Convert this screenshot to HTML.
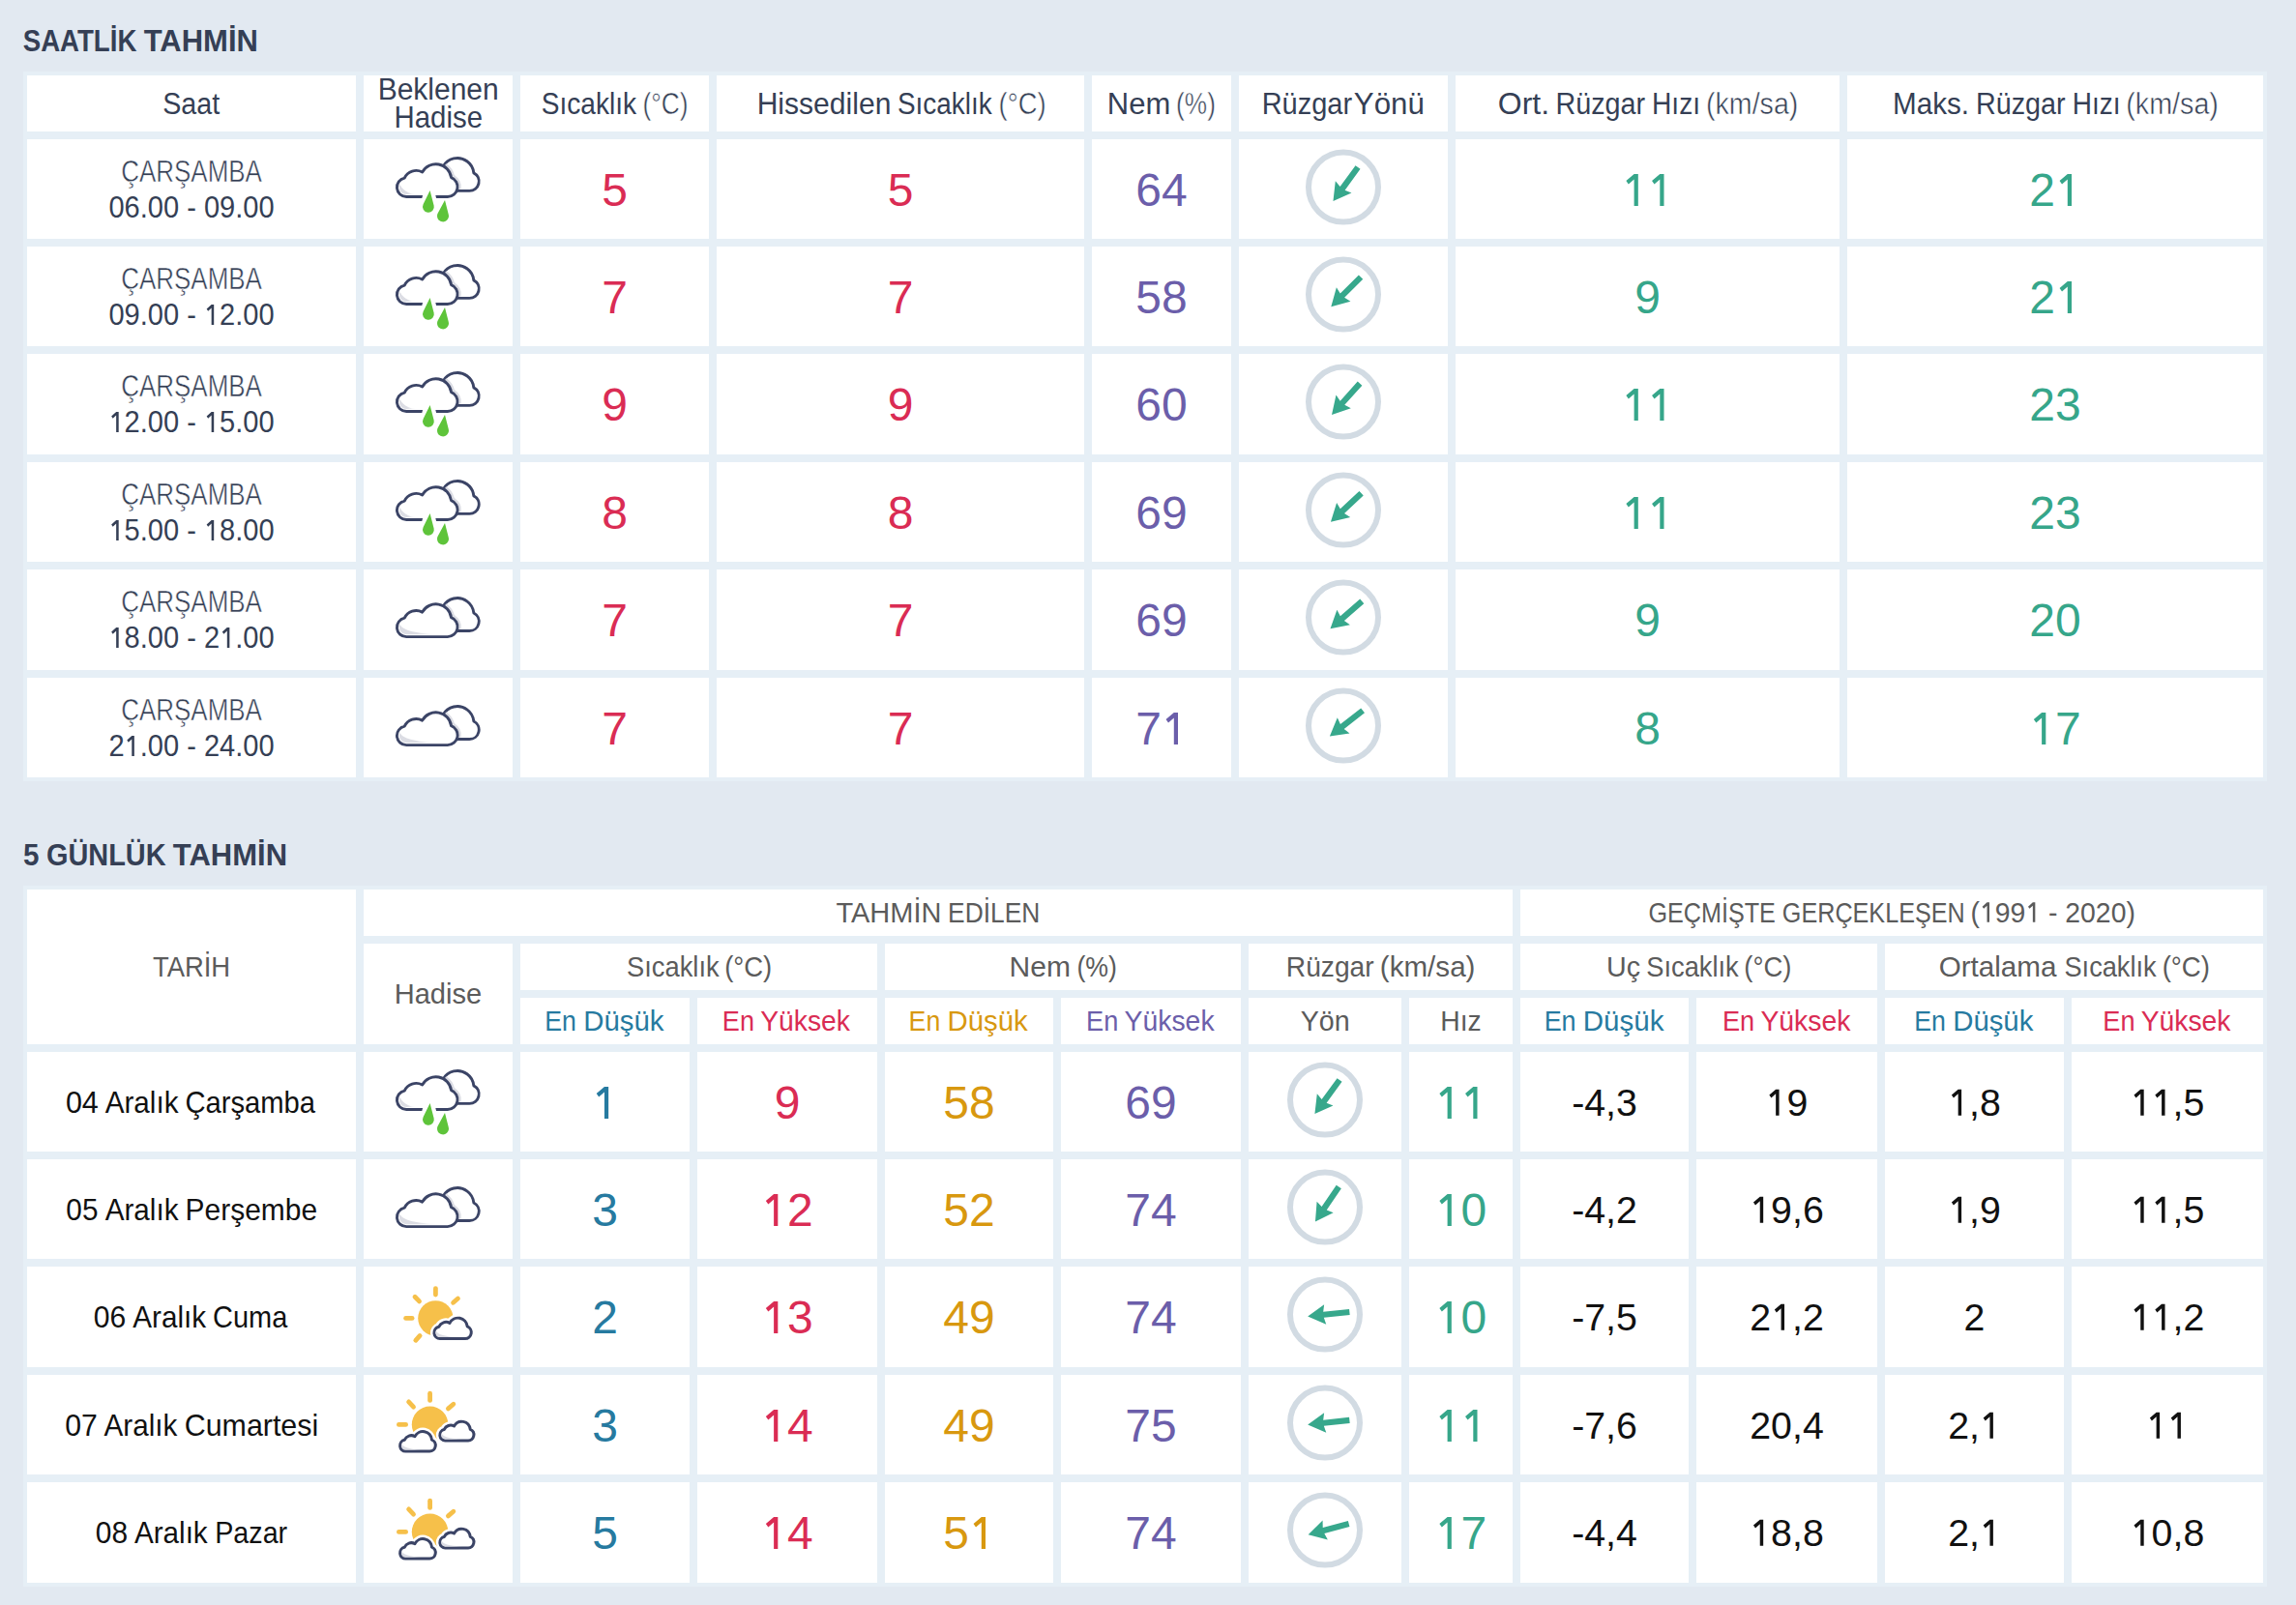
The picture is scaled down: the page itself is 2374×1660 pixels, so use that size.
<!DOCTYPE html>
<html lang="tr"><head><meta charset="utf-8"><title>Saatlik ve 5 Günlük Tahmin</title>
<style>
html,body{margin:0;padding:0}
body{width:2374px;height:1660px;background:#e2e9f1;position:relative;overflow:hidden;font-family:"Liberation Sans",sans-serif}
.tbl{position:absolute;background:#e6eff6}
.c{position:absolute;background:#fff}
svg.ov{position:absolute;left:0;top:0}
svg.ov text{font-family:"Liberation Sans",sans-serif;white-space:pre}
</style></head><body>
<div class="tbl" style="left:24px;top:74px;width:2320px;height:734px"></div>
<div class="tbl" style="left:24px;top:916px;width:2320px;height:725px"></div>
<div class="c" style="left:28px;top:78px;width:340px;height:58px"></div>
<div class="c" style="left:28px;top:144px;width:340px;height:103px"></div>
<div class="c" style="left:28px;top:255px;width:340px;height:103px"></div>
<div class="c" style="left:28px;top:366px;width:340px;height:104px"></div>
<div class="c" style="left:28px;top:478px;width:340px;height:103px"></div>
<div class="c" style="left:28px;top:589px;width:340px;height:104px"></div>
<div class="c" style="left:28px;top:701px;width:340px;height:103px"></div>
<div class="c" style="left:376px;top:78px;width:154px;height:58px"></div>
<div class="c" style="left:376px;top:144px;width:154px;height:103px"></div>
<div class="c" style="left:376px;top:255px;width:154px;height:103px"></div>
<div class="c" style="left:376px;top:366px;width:154px;height:104px"></div>
<div class="c" style="left:376px;top:478px;width:154px;height:103px"></div>
<div class="c" style="left:376px;top:589px;width:154px;height:104px"></div>
<div class="c" style="left:376px;top:701px;width:154px;height:103px"></div>
<div class="c" style="left:538px;top:78px;width:195px;height:58px"></div>
<div class="c" style="left:538px;top:144px;width:195px;height:103px"></div>
<div class="c" style="left:538px;top:255px;width:195px;height:103px"></div>
<div class="c" style="left:538px;top:366px;width:195px;height:104px"></div>
<div class="c" style="left:538px;top:478px;width:195px;height:103px"></div>
<div class="c" style="left:538px;top:589px;width:195px;height:104px"></div>
<div class="c" style="left:538px;top:701px;width:195px;height:103px"></div>
<div class="c" style="left:741px;top:78px;width:380px;height:58px"></div>
<div class="c" style="left:741px;top:144px;width:380px;height:103px"></div>
<div class="c" style="left:741px;top:255px;width:380px;height:103px"></div>
<div class="c" style="left:741px;top:366px;width:380px;height:104px"></div>
<div class="c" style="left:741px;top:478px;width:380px;height:103px"></div>
<div class="c" style="left:741px;top:589px;width:380px;height:104px"></div>
<div class="c" style="left:741px;top:701px;width:380px;height:103px"></div>
<div class="c" style="left:1129px;top:78px;width:144px;height:58px"></div>
<div class="c" style="left:1129px;top:144px;width:144px;height:103px"></div>
<div class="c" style="left:1129px;top:255px;width:144px;height:103px"></div>
<div class="c" style="left:1129px;top:366px;width:144px;height:104px"></div>
<div class="c" style="left:1129px;top:478px;width:144px;height:103px"></div>
<div class="c" style="left:1129px;top:589px;width:144px;height:104px"></div>
<div class="c" style="left:1129px;top:701px;width:144px;height:103px"></div>
<div class="c" style="left:1281px;top:78px;width:216px;height:58px"></div>
<div class="c" style="left:1281px;top:144px;width:216px;height:103px"></div>
<div class="c" style="left:1281px;top:255px;width:216px;height:103px"></div>
<div class="c" style="left:1281px;top:366px;width:216px;height:104px"></div>
<div class="c" style="left:1281px;top:478px;width:216px;height:103px"></div>
<div class="c" style="left:1281px;top:589px;width:216px;height:104px"></div>
<div class="c" style="left:1281px;top:701px;width:216px;height:103px"></div>
<div class="c" style="left:1505px;top:78px;width:397px;height:58px"></div>
<div class="c" style="left:1505px;top:144px;width:397px;height:103px"></div>
<div class="c" style="left:1505px;top:255px;width:397px;height:103px"></div>
<div class="c" style="left:1505px;top:366px;width:397px;height:104px"></div>
<div class="c" style="left:1505px;top:478px;width:397px;height:103px"></div>
<div class="c" style="left:1505px;top:589px;width:397px;height:104px"></div>
<div class="c" style="left:1505px;top:701px;width:397px;height:103px"></div>
<div class="c" style="left:1910px;top:78px;width:430px;height:58px"></div>
<div class="c" style="left:1910px;top:144px;width:430px;height:103px"></div>
<div class="c" style="left:1910px;top:255px;width:430px;height:103px"></div>
<div class="c" style="left:1910px;top:366px;width:430px;height:104px"></div>
<div class="c" style="left:1910px;top:478px;width:430px;height:103px"></div>
<div class="c" style="left:1910px;top:589px;width:430px;height:104px"></div>
<div class="c" style="left:1910px;top:701px;width:430px;height:103px"></div>
<div class="c" style="left:28px;top:920px;width:340px;height:160px"></div>
<div class="c" style="left:376px;top:920px;width:1188px;height:48px"></div>
<div class="c" style="left:1572px;top:920px;width:768px;height:48px"></div>
<div class="c" style="left:376px;top:976px;width:154px;height:104px"></div>
<div class="c" style="left:538px;top:976px;width:369px;height:48px"></div>
<div class="c" style="left:915px;top:976px;width:368px;height:48px"></div>
<div class="c" style="left:1291px;top:976px;width:273px;height:48px"></div>
<div class="c" style="left:1572px;top:976px;width:369px;height:48px"></div>
<div class="c" style="left:1949px;top:976px;width:391px;height:48px"></div>
<div class="c" style="left:538px;top:1032px;width:175px;height:48px"></div>
<div class="c" style="left:721px;top:1032px;width:186px;height:48px"></div>
<div class="c" style="left:915px;top:1032px;width:174px;height:48px"></div>
<div class="c" style="left:1097px;top:1032px;width:186px;height:48px"></div>
<div class="c" style="left:1291px;top:1032px;width:158px;height:48px"></div>
<div class="c" style="left:1457px;top:1032px;width:107px;height:48px"></div>
<div class="c" style="left:1572px;top:1032px;width:174px;height:48px"></div>
<div class="c" style="left:1754px;top:1032px;width:187px;height:48px"></div>
<div class="c" style="left:1949px;top:1032px;width:185px;height:48px"></div>
<div class="c" style="left:2142px;top:1032px;width:198px;height:48px"></div>
<div class="c" style="left:28px;top:1088px;width:340px;height:103px"></div>
<div class="c" style="left:376px;top:1088px;width:154px;height:103px"></div>
<div class="c" style="left:538px;top:1088px;width:175px;height:103px"></div>
<div class="c" style="left:721px;top:1088px;width:186px;height:103px"></div>
<div class="c" style="left:915px;top:1088px;width:174px;height:103px"></div>
<div class="c" style="left:1097px;top:1088px;width:186px;height:103px"></div>
<div class="c" style="left:1291px;top:1088px;width:158px;height:103px"></div>
<div class="c" style="left:1457px;top:1088px;width:107px;height:103px"></div>
<div class="c" style="left:1572px;top:1088px;width:174px;height:103px"></div>
<div class="c" style="left:1754px;top:1088px;width:187px;height:103px"></div>
<div class="c" style="left:1949px;top:1088px;width:185px;height:103px"></div>
<div class="c" style="left:2142px;top:1088px;width:198px;height:103px"></div>
<div class="c" style="left:28px;top:1199px;width:340px;height:103px"></div>
<div class="c" style="left:376px;top:1199px;width:154px;height:103px"></div>
<div class="c" style="left:538px;top:1199px;width:175px;height:103px"></div>
<div class="c" style="left:721px;top:1199px;width:186px;height:103px"></div>
<div class="c" style="left:915px;top:1199px;width:174px;height:103px"></div>
<div class="c" style="left:1097px;top:1199px;width:186px;height:103px"></div>
<div class="c" style="left:1291px;top:1199px;width:158px;height:103px"></div>
<div class="c" style="left:1457px;top:1199px;width:107px;height:103px"></div>
<div class="c" style="left:1572px;top:1199px;width:174px;height:103px"></div>
<div class="c" style="left:1754px;top:1199px;width:187px;height:103px"></div>
<div class="c" style="left:1949px;top:1199px;width:185px;height:103px"></div>
<div class="c" style="left:2142px;top:1199px;width:198px;height:103px"></div>
<div class="c" style="left:28px;top:1310px;width:340px;height:104px"></div>
<div class="c" style="left:376px;top:1310px;width:154px;height:104px"></div>
<div class="c" style="left:538px;top:1310px;width:175px;height:104px"></div>
<div class="c" style="left:721px;top:1310px;width:186px;height:104px"></div>
<div class="c" style="left:915px;top:1310px;width:174px;height:104px"></div>
<div class="c" style="left:1097px;top:1310px;width:186px;height:104px"></div>
<div class="c" style="left:1291px;top:1310px;width:158px;height:104px"></div>
<div class="c" style="left:1457px;top:1310px;width:107px;height:104px"></div>
<div class="c" style="left:1572px;top:1310px;width:174px;height:104px"></div>
<div class="c" style="left:1754px;top:1310px;width:187px;height:104px"></div>
<div class="c" style="left:1949px;top:1310px;width:185px;height:104px"></div>
<div class="c" style="left:2142px;top:1310px;width:198px;height:104px"></div>
<div class="c" style="left:28px;top:1422px;width:340px;height:103px"></div>
<div class="c" style="left:376px;top:1422px;width:154px;height:103px"></div>
<div class="c" style="left:538px;top:1422px;width:175px;height:103px"></div>
<div class="c" style="left:721px;top:1422px;width:186px;height:103px"></div>
<div class="c" style="left:915px;top:1422px;width:174px;height:103px"></div>
<div class="c" style="left:1097px;top:1422px;width:186px;height:103px"></div>
<div class="c" style="left:1291px;top:1422px;width:158px;height:103px"></div>
<div class="c" style="left:1457px;top:1422px;width:107px;height:103px"></div>
<div class="c" style="left:1572px;top:1422px;width:174px;height:103px"></div>
<div class="c" style="left:1754px;top:1422px;width:187px;height:103px"></div>
<div class="c" style="left:1949px;top:1422px;width:185px;height:103px"></div>
<div class="c" style="left:2142px;top:1422px;width:198px;height:103px"></div>
<div class="c" style="left:28px;top:1533px;width:340px;height:104px"></div>
<div class="c" style="left:376px;top:1533px;width:154px;height:104px"></div>
<div class="c" style="left:538px;top:1533px;width:175px;height:104px"></div>
<div class="c" style="left:721px;top:1533px;width:186px;height:104px"></div>
<div class="c" style="left:915px;top:1533px;width:174px;height:104px"></div>
<div class="c" style="left:1097px;top:1533px;width:186px;height:104px"></div>
<div class="c" style="left:1291px;top:1533px;width:158px;height:104px"></div>
<div class="c" style="left:1457px;top:1533px;width:107px;height:104px"></div>
<div class="c" style="left:1572px;top:1533px;width:174px;height:104px"></div>
<div class="c" style="left:1754px;top:1533px;width:187px;height:104px"></div>
<div class="c" style="left:1949px;top:1533px;width:185px;height:104px"></div>
<div class="c" style="left:2142px;top:1533px;width:198px;height:104px"></div>
<svg class="ov" width="2374" height="1660" viewBox="0 0 2374 1660" xmlns="http://www.w3.org/2000/svg">
<defs><linearGradient id="shg" x1="0" y1="0" x2="1" y2="0"><stop offset="0" stop-color="#dcdde4"/><stop offset="0.45" stop-color="#dcdde4"/><stop offset="1" stop-color="#dcdde4" stop-opacity="0"/></linearGradient></defs>
<circle cx="1389.00" cy="193.60" r="36" fill="none" stroke="#d2dbe3" stroke-width="6"/><polygon points="17.90,0.00 -0.20,10.30 1.50,3.10 -25.50,3.10 -25.50,-3.10 1.50,-3.10 -0.20,-10.30" fill="#37a88c" transform="translate(1389.00 193.60) rotate(126.10)"/>
<g transform="translate(400.00 150.00)"><path d="M56.93 47.40 L85.40 47.40 A9.80 9.80 0 0 0 89.82 28.85 A17.00 17.00 0 1 0 56.93 36.31 Z" fill="#fff" stroke="#3b4466" stroke-width="2.9" stroke-linejoin="round"/><path d="M61.57 20.73 A18.5 18.5 0 0 1 68.65 31.22 L69.96 32.59 A12.8 12.8 0 0 1 75.53 44.54" fill="none" stroke="#dcdde4" stroke-width="2.3" stroke-linecap="round"/><path d="M20.20 53.50 A9.80 9.80 0 0 1 18.24 34.10 A13.30 13.30 0 0 1 36.66 28.02 A16.00 16.00 0 0 1 66.56 33.61 A10.30 10.30 0 0 1 62.80 53.50 Z" fill="#fff" stroke="#3b4466" stroke-width="2.9" stroke-linejoin="round"/><path d="M13.21 41.43 A7.35 7.35 0 0 0 20.20 51.05 L30.50 51.05 C25.78 50.70 17.00 48.60 13.81 41.23 Z" fill="url(#shg)"/><path d="M37.2 51.5 L50.2 51.5 L51.2 55.5 L36.2 55.5 Z" fill="#fff"/><path d="M44.60 47.10 L48.61 62.41 A5.90 5.90 0 1 1 37.61 61.29 Z" fill="#5ec43a"/><path d="M60.00 56.90 L63.82 71.92 A6.00 6.00 0 1 1 52.71 70.58 Z" fill="#5ec43a"/></g>
<circle cx="1389.00" cy="304.60" r="36" fill="none" stroke="#d2dbe3" stroke-width="6"/><polygon points="17.90,0.00 -0.20,10.30 1.50,3.10 -25.50,3.10 -25.50,-3.10 1.50,-3.10 -0.20,-10.30" fill="#37a88c" transform="translate(1389.00 304.60) rotate(135.10)"/>
<g transform="translate(400.00 261.00)"><path d="M56.93 47.40 L85.40 47.40 A9.80 9.80 0 0 0 89.82 28.85 A17.00 17.00 0 1 0 56.93 36.31 Z" fill="#fff" stroke="#3b4466" stroke-width="2.9" stroke-linejoin="round"/><path d="M61.57 20.73 A18.5 18.5 0 0 1 68.65 31.22 L69.96 32.59 A12.8 12.8 0 0 1 75.53 44.54" fill="none" stroke="#dcdde4" stroke-width="2.3" stroke-linecap="round"/><path d="M20.20 53.50 A9.80 9.80 0 0 1 18.24 34.10 A13.30 13.30 0 0 1 36.66 28.02 A16.00 16.00 0 0 1 66.56 33.61 A10.30 10.30 0 0 1 62.80 53.50 Z" fill="#fff" stroke="#3b4466" stroke-width="2.9" stroke-linejoin="round"/><path d="M13.21 41.43 A7.35 7.35 0 0 0 20.20 51.05 L30.50 51.05 C25.78 50.70 17.00 48.60 13.81 41.23 Z" fill="url(#shg)"/><path d="M37.2 51.5 L50.2 51.5 L51.2 55.5 L36.2 55.5 Z" fill="#fff"/><path d="M44.60 47.10 L48.61 62.41 A5.90 5.90 0 1 1 37.61 61.29 Z" fill="#5ec43a"/><path d="M60.00 56.90 L63.82 71.92 A6.00 6.00 0 1 1 52.71 70.58 Z" fill="#5ec43a"/></g>
<circle cx="1389.00" cy="415.60" r="36" fill="none" stroke="#d2dbe3" stroke-width="6"/><polygon points="17.90,0.00 -0.20,10.30 1.50,3.10 -25.50,3.10 -25.50,-3.10 1.50,-3.10 -0.20,-10.30" fill="#37a88c" transform="translate(1389.00 415.60) rotate(132.00)"/>
<g transform="translate(400.00 372.00)"><path d="M56.93 47.40 L85.40 47.40 A9.80 9.80 0 0 0 89.82 28.85 A17.00 17.00 0 1 0 56.93 36.31 Z" fill="#fff" stroke="#3b4466" stroke-width="2.9" stroke-linejoin="round"/><path d="M61.57 20.73 A18.5 18.5 0 0 1 68.65 31.22 L69.96 32.59 A12.8 12.8 0 0 1 75.53 44.54" fill="none" stroke="#dcdde4" stroke-width="2.3" stroke-linecap="round"/><path d="M20.20 53.50 A9.80 9.80 0 0 1 18.24 34.10 A13.30 13.30 0 0 1 36.66 28.02 A16.00 16.00 0 0 1 66.56 33.61 A10.30 10.30 0 0 1 62.80 53.50 Z" fill="#fff" stroke="#3b4466" stroke-width="2.9" stroke-linejoin="round"/><path d="M13.21 41.43 A7.35 7.35 0 0 0 20.20 51.05 L30.50 51.05 C25.78 50.70 17.00 48.60 13.81 41.23 Z" fill="url(#shg)"/><path d="M37.2 51.5 L50.2 51.5 L51.2 55.5 L36.2 55.5 Z" fill="#fff"/><path d="M44.60 47.10 L48.61 62.41 A5.90 5.90 0 1 1 37.61 61.29 Z" fill="#5ec43a"/><path d="M60.00 56.90 L63.82 71.92 A6.00 6.00 0 1 1 52.71 70.58 Z" fill="#5ec43a"/></g>
<circle cx="1389.00" cy="527.60" r="36" fill="none" stroke="#d2dbe3" stroke-width="6"/><polygon points="17.90,0.00 -0.20,10.30 1.50,3.10 -25.50,3.10 -25.50,-3.10 1.50,-3.10 -0.20,-10.30" fill="#37a88c" transform="translate(1389.00 527.60) rotate(136.80)"/>
<g transform="translate(400.00 484.00)"><path d="M56.93 47.40 L85.40 47.40 A9.80 9.80 0 0 0 89.82 28.85 A17.00 17.00 0 1 0 56.93 36.31 Z" fill="#fff" stroke="#3b4466" stroke-width="2.9" stroke-linejoin="round"/><path d="M61.57 20.73 A18.5 18.5 0 0 1 68.65 31.22 L69.96 32.59 A12.8 12.8 0 0 1 75.53 44.54" fill="none" stroke="#dcdde4" stroke-width="2.3" stroke-linecap="round"/><path d="M20.20 53.50 A9.80 9.80 0 0 1 18.24 34.10 A13.30 13.30 0 0 1 36.66 28.02 A16.00 16.00 0 0 1 66.56 33.61 A10.30 10.30 0 0 1 62.80 53.50 Z" fill="#fff" stroke="#3b4466" stroke-width="2.9" stroke-linejoin="round"/><path d="M13.21 41.43 A7.35 7.35 0 0 0 20.20 51.05 L30.50 51.05 C25.78 50.70 17.00 48.60 13.81 41.23 Z" fill="url(#shg)"/><path d="M37.2 51.5 L50.2 51.5 L51.2 55.5 L36.2 55.5 Z" fill="#fff"/><path d="M44.60 47.10 L48.61 62.41 A5.90 5.90 0 1 1 37.61 61.29 Z" fill="#5ec43a"/><path d="M60.00 56.90 L63.82 71.92 A6.00 6.00 0 1 1 52.71 70.58 Z" fill="#5ec43a"/></g>
<circle cx="1389.00" cy="638.60" r="36" fill="none" stroke="#d2dbe3" stroke-width="6"/><polygon points="17.90,0.00 -0.20,10.30 1.50,3.10 -25.50,3.10 -25.50,-3.10 1.50,-3.10 -0.20,-10.30" fill="#37a88c" transform="translate(1389.00 638.60) rotate(139.00)"/>
<g transform="translate(400.00 605.10)"><path d="M56.93 47.40 L85.40 47.40 A9.80 9.80 0 0 0 89.82 28.85 A17.00 17.00 0 1 0 56.93 36.31 Z" fill="#fff" stroke="#3b4466" stroke-width="2.9" stroke-linejoin="round"/><path d="M61.57 20.73 A18.5 18.5 0 0 1 68.65 31.22 L69.96 32.59 A12.8 12.8 0 0 1 75.53 44.54" fill="none" stroke="#dcdde4" stroke-width="2.3" stroke-linecap="round"/><path d="M20.20 53.50 A9.80 9.80 0 0 1 18.24 34.10 A13.30 13.30 0 0 1 36.66 28.02 A16.00 16.00 0 0 1 66.56 33.61 A10.30 10.30 0 0 1 62.80 53.50 Z" fill="#fff" stroke="#3b4466" stroke-width="2.9" stroke-linejoin="round"/><path d="M13.21 41.43 A7.35 7.35 0 0 0 20.20 51.05 L54.00 51.05 C38.70 50.70 17.00 48.60 13.81 41.23 Z" fill="url(#shg)"/></g>
<circle cx="1389.00" cy="750.60" r="36" fill="none" stroke="#d2dbe3" stroke-width="6"/><polygon points="17.90,0.00 -0.20,10.30 1.50,3.10 -25.50,3.10 -25.50,-3.10 1.50,-3.10 -0.20,-10.30" fill="#37a88c" transform="translate(1389.00 750.60) rotate(142.00)"/>
<g transform="translate(400.00 717.10)"><path d="M56.93 47.40 L85.40 47.40 A9.80 9.80 0 0 0 89.82 28.85 A17.00 17.00 0 1 0 56.93 36.31 Z" fill="#fff" stroke="#3b4466" stroke-width="2.9" stroke-linejoin="round"/><path d="M61.57 20.73 A18.5 18.5 0 0 1 68.65 31.22 L69.96 32.59 A12.8 12.8 0 0 1 75.53 44.54" fill="none" stroke="#dcdde4" stroke-width="2.3" stroke-linecap="round"/><path d="M20.20 53.50 A9.80 9.80 0 0 1 18.24 34.10 A13.30 13.30 0 0 1 36.66 28.02 A16.00 16.00 0 0 1 66.56 33.61 A10.30 10.30 0 0 1 62.80 53.50 Z" fill="#fff" stroke="#3b4466" stroke-width="2.9" stroke-linejoin="round"/><path d="M13.21 41.43 A7.35 7.35 0 0 0 20.20 51.05 L54.00 51.05 C38.70 50.70 17.00 48.60 13.81 41.23 Z" fill="url(#shg)"/></g>
<circle cx="1370.00" cy="1137.60" r="36" fill="none" stroke="#d2dbe3" stroke-width="6"/><polygon points="17.90,0.00 -0.20,10.30 1.50,3.10 -25.50,3.10 -25.50,-3.10 1.50,-3.10 -0.20,-10.30" fill="#37a88c" transform="translate(1370.00 1137.60) rotate(126.20)"/>
<g transform="translate(400.00 1094.00)"><path d="M56.93 47.40 L85.40 47.40 A9.80 9.80 0 0 0 89.82 28.85 A17.00 17.00 0 1 0 56.93 36.31 Z" fill="#fff" stroke="#3b4466" stroke-width="2.9" stroke-linejoin="round"/><path d="M61.57 20.73 A18.5 18.5 0 0 1 68.65 31.22 L69.96 32.59 A12.8 12.8 0 0 1 75.53 44.54" fill="none" stroke="#dcdde4" stroke-width="2.3" stroke-linecap="round"/><path d="M20.20 53.50 A9.80 9.80 0 0 1 18.24 34.10 A13.30 13.30 0 0 1 36.66 28.02 A16.00 16.00 0 0 1 66.56 33.61 A10.30 10.30 0 0 1 62.80 53.50 Z" fill="#fff" stroke="#3b4466" stroke-width="2.9" stroke-linejoin="round"/><path d="M13.21 41.43 A7.35 7.35 0 0 0 20.20 51.05 L30.50 51.05 C25.78 50.70 17.00 48.60 13.81 41.23 Z" fill="url(#shg)"/><path d="M37.2 51.5 L50.2 51.5 L51.2 55.5 L36.2 55.5 Z" fill="#fff"/><path d="M44.60 47.10 L48.61 62.41 A5.90 5.90 0 1 1 37.61 61.29 Z" fill="#5ec43a"/><path d="M60.00 56.90 L63.82 71.92 A6.00 6.00 0 1 1 52.71 70.58 Z" fill="#5ec43a"/></g>
<circle cx="1370.00" cy="1248.60" r="36" fill="none" stroke="#d2dbe3" stroke-width="6"/><polygon points="17.90,0.00 -0.20,10.30 1.50,3.10 -25.50,3.10 -25.50,-3.10 1.50,-3.10 -0.20,-10.30" fill="#37a88c" transform="translate(1370.00 1248.60) rotate(124.10)"/>
<g transform="translate(400.00 1215.10)"><path d="M56.93 47.40 L85.40 47.40 A9.80 9.80 0 0 0 89.82 28.85 A17.00 17.00 0 1 0 56.93 36.31 Z" fill="#fff" stroke="#3b4466" stroke-width="2.9" stroke-linejoin="round"/><path d="M61.57 20.73 A18.5 18.5 0 0 1 68.65 31.22 L69.96 32.59 A12.8 12.8 0 0 1 75.53 44.54" fill="none" stroke="#dcdde4" stroke-width="2.3" stroke-linecap="round"/><path d="M20.20 53.50 A9.80 9.80 0 0 1 18.24 34.10 A13.30 13.30 0 0 1 36.66 28.02 A16.00 16.00 0 0 1 66.56 33.61 A10.30 10.30 0 0 1 62.80 53.50 Z" fill="#fff" stroke="#3b4466" stroke-width="2.9" stroke-linejoin="round"/><path d="M13.21 41.43 A7.35 7.35 0 0 0 20.20 51.05 L54.00 51.05 C38.70 50.70 17.00 48.60 13.81 41.23 Z" fill="url(#shg)"/></g>
<circle cx="1370.00" cy="1359.60" r="36" fill="none" stroke="#d2dbe3" stroke-width="6"/><polygon points="17.90,0.00 -0.20,10.30 1.50,3.10 -25.50,3.10 -25.50,-3.10 1.50,-3.10 -0.20,-10.30" fill="#37a88c" transform="translate(1370.00 1359.60) rotate(174.10)"/>
<g transform="translate(400.00 1320.00)"><circle cx="50.40" cy="43.40" r="18.20" fill="#f6c04a"/><line x1="26.10" y1="43.40" x2="19.60" y2="43.40" stroke="#f6c04a" stroke-width="4.8" stroke-linecap="round"/><line x1="33.52" y1="25.92" x2="29.00" y2="21.24" stroke="#f6c04a" stroke-width="4.8" stroke-linecap="round"/><line x1="50.40" y1="19.10" x2="50.40" y2="12.60" stroke="#f6c04a" stroke-width="4.8" stroke-linecap="round"/><line x1="68.60" y1="27.30" x2="73.47" y2="22.99" stroke="#f6c04a" stroke-width="4.8" stroke-linecap="round"/><line x1="34.14" y1="61.46" x2="29.79" y2="66.29" stroke="#f6c04a" stroke-width="4.8" stroke-linecap="round"/><path d="M20.20 53.50 A9.80 9.80 0 0 1 18.24 34.10 A13.30 13.30 0 0 1 36.66 28.02 A16.00 16.00 0 0 1 66.56 33.61 A10.30 10.30 0 0 1 62.80 53.50 Z" transform="translate(42.54 30.63) scale(0.6120 0.6350)" fill="#fff" stroke="#fff" stroke-width="8" vector-effect="non-scaling-stroke" stroke-linejoin="round"/><path d="M20.20 53.50 A9.80 9.80 0 0 1 18.24 34.10 A13.30 13.30 0 0 1 36.66 28.02 A16.00 16.00 0 0 1 66.56 33.61 A10.30 10.30 0 0 1 62.80 53.50 Z" transform="translate(42.54 30.63) scale(0.6120 0.6350)" fill="#fff" stroke="#3b4466" stroke-width="3" vector-effect="non-scaling-stroke" stroke-linejoin="round"/><path d="M13.21 41.43 A7.35 7.35 0 0 0 20.20 51.05 L54.00 51.05 C38.70 50.70 17.00 48.60 13.81 41.23 Z" transform="translate(42.54 30.63) scale(0.6120 0.6350)" fill="url(#shg)"/></g>
<circle cx="1370.00" cy="1471.60" r="36" fill="none" stroke="#d2dbe3" stroke-width="6"/><polygon points="17.90,0.00 -0.20,10.30 1.50,3.10 -25.50,3.10 -25.50,-3.10 1.50,-3.10 -0.20,-10.30" fill="#37a88c" transform="translate(1370.00 1471.60) rotate(174.00)"/>
<g transform="translate(400.00 1430.00)"><circle cx="44.60" cy="43.40" r="18.80" fill="#f6c04a"/><line x1="19.60" y1="43.40" x2="12.40" y2="43.40" stroke="#f6c04a" stroke-width="4.8" stroke-linecap="round"/><line x1="27.52" y1="25.15" x2="22.60" y2="19.89" stroke="#f6c04a" stroke-width="4.8" stroke-linecap="round"/><line x1="44.60" y1="18.40" x2="44.60" y2="11.20" stroke="#f6c04a" stroke-width="4.8" stroke-linecap="round"/><line x1="63.41" y1="26.93" x2="68.83" y2="22.19" stroke="#f6c04a" stroke-width="4.8" stroke-linecap="round"/><path d="M20.20 53.50 A9.80 9.80 0 0 1 18.24 34.10 A13.30 13.30 0 0 1 36.66 28.02 A16.00 16.00 0 0 1 66.56 33.61 A10.30 10.30 0 0 1 62.80 53.50 Z" transform="translate(48.98 28.71) scale(0.5600 0.5830)" fill="#fff" stroke="#fff" stroke-width="8" vector-effect="non-scaling-stroke" stroke-linejoin="round"/><path d="M20.20 53.50 A9.80 9.80 0 0 1 18.24 34.10 A13.30 13.30 0 0 1 36.66 28.02 A16.00 16.00 0 0 1 66.56 33.61 A10.30 10.30 0 0 1 62.80 53.50 Z" transform="translate(48.98 28.71) scale(0.5600 0.5830)" fill="#fff" stroke="#3b4466" stroke-width="3" vector-effect="non-scaling-stroke" stroke-linejoin="round"/><path d="M13.21 41.43 A7.35 7.35 0 0 0 20.20 51.05 L54.00 51.05 C38.70 50.70 17.00 48.60 13.81 41.23 Z" transform="translate(48.98 28.71) scale(0.5600 0.5830)" fill="url(#shg)"/><path d="M20.20 53.50 A9.80 9.80 0 0 1 18.24 34.10 A13.30 13.30 0 0 1 36.66 28.02 A16.00 16.00 0 0 1 66.56 33.61 A10.30 10.30 0 0 1 62.80 53.50 Z" transform="translate(7.52 38.63) scale(0.5850 0.6070)" fill="#fff" stroke="#fff" stroke-width="8" vector-effect="non-scaling-stroke" stroke-linejoin="round"/><path d="M20.20 53.50 A9.80 9.80 0 0 1 18.24 34.10 A13.30 13.30 0 0 1 36.66 28.02 A16.00 16.00 0 0 1 66.56 33.61 A10.30 10.30 0 0 1 62.80 53.50 Z" transform="translate(7.52 38.63) scale(0.5850 0.6070)" fill="#fff" stroke="#3b4466" stroke-width="3" vector-effect="non-scaling-stroke" stroke-linejoin="round"/><path d="M13.21 41.43 A7.35 7.35 0 0 0 20.20 51.05 L54.00 51.05 C38.70 50.70 17.00 48.60 13.81 41.23 Z" transform="translate(7.52 38.63) scale(0.5850 0.6070)" fill="url(#shg)"/></g>
<circle cx="1370.00" cy="1582.60" r="36" fill="none" stroke="#d2dbe3" stroke-width="6"/><polygon points="17.90,0.00 -0.20,10.30 1.50,3.10 -25.50,3.10 -25.50,-3.10 1.50,-3.10 -0.20,-10.30" fill="#37a88c" transform="translate(1370.00 1582.60) rotate(165.20)"/>
<g transform="translate(400.00 1541.00)"><circle cx="44.60" cy="43.40" r="18.80" fill="#f6c04a"/><line x1="19.60" y1="43.40" x2="12.40" y2="43.40" stroke="#f6c04a" stroke-width="4.8" stroke-linecap="round"/><line x1="27.52" y1="25.15" x2="22.60" y2="19.89" stroke="#f6c04a" stroke-width="4.8" stroke-linecap="round"/><line x1="44.60" y1="18.40" x2="44.60" y2="11.20" stroke="#f6c04a" stroke-width="4.8" stroke-linecap="round"/><line x1="63.41" y1="26.93" x2="68.83" y2="22.19" stroke="#f6c04a" stroke-width="4.8" stroke-linecap="round"/><path d="M20.20 53.50 A9.80 9.80 0 0 1 18.24 34.10 A13.30 13.30 0 0 1 36.66 28.02 A16.00 16.00 0 0 1 66.56 33.61 A10.30 10.30 0 0 1 62.80 53.50 Z" transform="translate(48.98 28.71) scale(0.5600 0.5830)" fill="#fff" stroke="#fff" stroke-width="8" vector-effect="non-scaling-stroke" stroke-linejoin="round"/><path d="M20.20 53.50 A9.80 9.80 0 0 1 18.24 34.10 A13.30 13.30 0 0 1 36.66 28.02 A16.00 16.00 0 0 1 66.56 33.61 A10.30 10.30 0 0 1 62.80 53.50 Z" transform="translate(48.98 28.71) scale(0.5600 0.5830)" fill="#fff" stroke="#3b4466" stroke-width="3" vector-effect="non-scaling-stroke" stroke-linejoin="round"/><path d="M13.21 41.43 A7.35 7.35 0 0 0 20.20 51.05 L54.00 51.05 C38.70 50.70 17.00 48.60 13.81 41.23 Z" transform="translate(48.98 28.71) scale(0.5600 0.5830)" fill="url(#shg)"/><path d="M20.20 53.50 A9.80 9.80 0 0 1 18.24 34.10 A13.30 13.30 0 0 1 36.66 28.02 A16.00 16.00 0 0 1 66.56 33.61 A10.30 10.30 0 0 1 62.80 53.50 Z" transform="translate(7.52 38.63) scale(0.5850 0.6070)" fill="#fff" stroke="#fff" stroke-width="8" vector-effect="non-scaling-stroke" stroke-linejoin="round"/><path d="M20.20 53.50 A9.80 9.80 0 0 1 18.24 34.10 A13.30 13.30 0 0 1 36.66 28.02 A16.00 16.00 0 0 1 66.56 33.61 A10.30 10.30 0 0 1 62.80 53.50 Z" transform="translate(7.52 38.63) scale(0.5850 0.6070)" fill="#fff" stroke="#3b4466" stroke-width="3" vector-effect="non-scaling-stroke" stroke-linejoin="round"/><path d="M13.21 41.43 A7.35 7.35 0 0 0 20.20 51.05 L54.00 51.05 C38.70 50.70 17.00 48.60 13.81 41.23 Z" transform="translate(7.52 38.63) scale(0.5850 0.6070)" fill="url(#shg)"/></g>
<text transform="translate(23.71 53.10) scale(0.9002 1)" font-size="30.70" fill="#353f55" font-weight="bold">SAATLİK</text>
<text transform="translate(148.72 53.10) scale(1.0098 1)" font-size="30.70" fill="#353f55" font-weight="bold">TAHMİN</text>
<text transform="translate(168.21 118.40) scale(0.9369 1)" font-size="30.60" fill="#353f55">Saat</text>
<text transform="translate(390.65 103.00) scale(0.9803 1)" font-size="30.60" fill="#353f55">Beklenen</text>
<text transform="translate(407.50 131.80) scale(0.9609 1)" font-size="30.60" fill="#353f55">Hadise</text>
<text transform="translate(559.74 118.00) scale(0.9191 1)" font-size="30.60" fill="#353f55">Sıcaklık</text>
<text transform="translate(664.39 118.00) scale(0.8608 1)" font-size="30.60" fill="#353f55">(°C)</text>
<text transform="translate(664.39 118.00) scale(0.8608 1)" font-size="30.60" fill="none" stroke="#fff" stroke-width="0.50">(°C)</text>
<text transform="translate(782.64 118.00) scale(0.9835 1)" font-size="30.60" fill="#353f55">Hissedilen</text>
<text transform="translate(927.95 118.00) scale(0.9125 1)" font-size="30.60" fill="#353f55">Sıcaklık</text>
<text transform="translate(1032.62 118.00) scale(0.8961 1)" font-size="30.60" fill="#353f55">(°C)</text>
<text transform="translate(1032.62 118.00) scale(0.8961 1)" font-size="30.60" fill="none" stroke="#fff" stroke-width="0.50">(°C)</text>
<text transform="translate(1144.86 118.00) scale(1.0146 1)" font-size="30.60" fill="#353f55">Nem</text>
<text transform="translate(1216.09 118.00) scale(0.8571 1)" font-size="30.60" fill="#353f55">(%)</text>
<text transform="translate(1216.09 118.00) scale(0.8571 1)" font-size="30.60" fill="none" stroke="#fff" stroke-width="0.50">(%)</text>
<text transform="translate(1304.63 118.00) scale(0.9473 1)" font-size="30.60" fill="#353f55">Rüzgar</text>
<text transform="translate(1399.83 118.00) scale(1.0221 1)" font-size="30.60" fill="#353f55">Yönü</text>
<text transform="translate(1548.83 118.00) scale(1.0439 1)" font-size="30.60" fill="#353f55">Ort.</text>
<text transform="translate(1608.45 118.00) scale(0.9389 1)" font-size="30.60" fill="#353f55">Rüzgar</text>
<text transform="translate(1708.00 118.00) scale(0.9201 1)" font-size="30.60" fill="#353f55">Hızı</text>
<text transform="translate(1764.05 118.00) scale(0.9344 1)" font-size="30.60" fill="#353f55">(km/sa)</text>
<text transform="translate(1764.05 118.00) scale(0.9344 1)" font-size="30.60" fill="none" stroke="#fff" stroke-width="0.50">(km/sa)</text>
<text transform="translate(1957.08 118.00) scale(0.9689 1)" font-size="30.60" fill="#353f55">Maks.</text>
<text transform="translate(2042.95 118.00) scale(0.9389 1)" font-size="30.60" fill="#353f55">Rüzgar</text>
<text transform="translate(2142.81 118.00) scale(0.9160 1)" font-size="30.60" fill="#353f55">Hızı</text>
<text transform="translate(2198.24 118.00) scale(0.9384 1)" font-size="30.60" fill="#353f55">(km/sa)</text>
<text transform="translate(2198.24 118.00) scale(0.9384 1)" font-size="30.60" fill="none" stroke="#fff" stroke-width="0.50">(km/sa)</text>
<text transform="translate(125.22 187.90) scale(0.8462 1)" font-size="30.70" fill="#353f55">ÇARŞAMBA</text>
<text transform="translate(125.22 187.90) scale(0.8462 1)" font-size="30.70" fill="none" stroke="#fff" stroke-width="0.50">ÇARŞAMBA</text>
<g transform="translate(112.40 225.10) scale(0.9432 1)" fill="#353f55"><text x="0.00 17.12 34.25 42.81 59.94 85.62 104.44 121.57 138.69 147.25 164.38" y="0" font-size="30.80">06.00-09.00</text></g>
<g transform="translate(622.16 213.00) scale(1.0000 1)" fill="#da2c54"><text x="0.00" y="0" font-size="48.00">5</text></g>
<g transform="translate(917.66 213.00) scale(1.0000 1)" fill="#da2c54"><text x="0.00" y="0" font-size="48.00">5</text></g>
<g transform="translate(1174.31 213.00) scale(1.0000 1)" fill="#6b5eaa"><text x="0.00 26.69" y="0" font-size="48.00">64</text></g>
<g transform="translate(1676.81 213.00) scale(1.0000 1)" fill="#36a68a"><path d="M12.8 -33 L17.0 -33 L17.0 0 L12.8 0 L12.8 -27.45 L7.04 -22.46 L4.54 -26.05 Z" transform="translate(0.00 0) scale(1.0000)"/><path d="M12.8 -33 L17.0 -33 L17.0 0 L12.8 0 L12.8 -27.45 L7.04 -22.46 L4.54 -26.05 Z" transform="translate(26.69 0) scale(1.0000)"/></g>
<g transform="translate(2098.31 213.00) scale(1.0000 1)" fill="#36a68a"><text x="0.00" y="0" font-size="48.00">2</text><path d="M12.8 -33 L17.0 -33 L17.0 0 L12.8 0 L12.8 -27.45 L7.04 -22.46 L4.54 -26.05 Z" transform="translate(26.69 0) scale(1.0000)"/></g>
<text transform="translate(125.22 298.90) scale(0.8462 1)" font-size="30.70" fill="#353f55">ÇARŞAMBA</text>
<text transform="translate(125.22 298.90) scale(0.8462 1)" font-size="30.70" fill="none" stroke="#fff" stroke-width="0.50">ÇARŞAMBA</text>
<g transform="translate(112.40 336.10) scale(0.9432 1)" fill="#353f55"><text x="0.00 17.12 34.25 42.81 59.94 85.62 121.57 138.69 147.25 164.38" y="0" font-size="30.80">09.00-2.00</text><path d="M12.8 -33 L17.0 -33 L17.0 0 L12.8 0 L12.8 -27.45 L7.04 -22.46 L4.54 -26.05 Z" transform="translate(104.44 0) scale(0.6417)"/></g>
<g transform="translate(622.16 324.00) scale(1.0000 1)" fill="#da2c54"><text x="0.00" y="0" font-size="48.00">7</text></g>
<g transform="translate(917.66 324.00) scale(1.0000 1)" fill="#da2c54"><text x="0.00" y="0" font-size="48.00">7</text></g>
<g transform="translate(1174.31 324.00) scale(1.0000 1)" fill="#6b5eaa"><text x="0.00 26.69" y="0" font-size="48.00">58</text></g>
<g transform="translate(1690.16 324.00) scale(1.0000 1)" fill="#36a68a"><text x="0.00" y="0" font-size="48.00">9</text></g>
<g transform="translate(2098.31 324.00) scale(1.0000 1)" fill="#36a68a"><text x="0.00" y="0" font-size="48.00">2</text><path d="M12.8 -33 L17.0 -33 L17.0 0 L12.8 0 L12.8 -27.45 L7.04 -22.46 L4.54 -26.05 Z" transform="translate(26.69 0) scale(1.0000)"/></g>
<text transform="translate(125.22 409.90) scale(0.8462 1)" font-size="30.70" fill="#353f55">ÇARŞAMBA</text>
<text transform="translate(125.22 409.90) scale(0.8462 1)" font-size="30.70" fill="none" stroke="#fff" stroke-width="0.50">ÇARŞAMBA</text>
<g transform="translate(112.40 447.10) scale(0.9432 1)" fill="#353f55"><text x="17.12 34.25 42.81 59.94 85.62 121.57 138.69 147.25 164.38" y="0" font-size="30.80">2.00-5.00</text><path d="M12.8 -33 L17.0 -33 L17.0 0 L12.8 0 L12.8 -27.45 L7.04 -22.46 L4.54 -26.05 Z" transform="translate(0.00 0) scale(0.6417)"/><path d="M12.8 -33 L17.0 -33 L17.0 0 L12.8 0 L12.8 -27.45 L7.04 -22.46 L4.54 -26.05 Z" transform="translate(104.44 0) scale(0.6417)"/></g>
<g transform="translate(622.16 435.00) scale(1.0000 1)" fill="#da2c54"><text x="0.00" y="0" font-size="48.00">9</text></g>
<g transform="translate(917.66 435.00) scale(1.0000 1)" fill="#da2c54"><text x="0.00" y="0" font-size="48.00">9</text></g>
<g transform="translate(1174.31 435.00) scale(1.0000 1)" fill="#6b5eaa"><text x="0.00 26.69" y="0" font-size="48.00">60</text></g>
<g transform="translate(1676.81 435.00) scale(1.0000 1)" fill="#36a68a"><path d="M12.8 -33 L17.0 -33 L17.0 0 L12.8 0 L12.8 -27.45 L7.04 -22.46 L4.54 -26.05 Z" transform="translate(0.00 0) scale(1.0000)"/><path d="M12.8 -33 L17.0 -33 L17.0 0 L12.8 0 L12.8 -27.45 L7.04 -22.46 L4.54 -26.05 Z" transform="translate(26.69 0) scale(1.0000)"/></g>
<g transform="translate(2098.31 435.00) scale(1.0000 1)" fill="#36a68a"><text x="0.00 26.69" y="0" font-size="48.00">23</text></g>
<text transform="translate(125.22 521.90) scale(0.8462 1)" font-size="30.70" fill="#353f55">ÇARŞAMBA</text>
<text transform="translate(125.22 521.90) scale(0.8462 1)" font-size="30.70" fill="none" stroke="#fff" stroke-width="0.50">ÇARŞAMBA</text>
<g transform="translate(112.40 559.10) scale(0.9432 1)" fill="#353f55"><text x="17.12 34.25 42.81 59.94 85.62 121.57 138.69 147.25 164.38" y="0" font-size="30.80">5.00-8.00</text><path d="M12.8 -33 L17.0 -33 L17.0 0 L12.8 0 L12.8 -27.45 L7.04 -22.46 L4.54 -26.05 Z" transform="translate(0.00 0) scale(0.6417)"/><path d="M12.8 -33 L17.0 -33 L17.0 0 L12.8 0 L12.8 -27.45 L7.04 -22.46 L4.54 -26.05 Z" transform="translate(104.44 0) scale(0.6417)"/></g>
<g transform="translate(622.16 547.00) scale(1.0000 1)" fill="#da2c54"><text x="0.00" y="0" font-size="48.00">8</text></g>
<g transform="translate(917.66 547.00) scale(1.0000 1)" fill="#da2c54"><text x="0.00" y="0" font-size="48.00">8</text></g>
<g transform="translate(1174.31 547.00) scale(1.0000 1)" fill="#6b5eaa"><text x="0.00 26.69" y="0" font-size="48.00">69</text></g>
<g transform="translate(1676.81 547.00) scale(1.0000 1)" fill="#36a68a"><path d="M12.8 -33 L17.0 -33 L17.0 0 L12.8 0 L12.8 -27.45 L7.04 -22.46 L4.54 -26.05 Z" transform="translate(0.00 0) scale(1.0000)"/><path d="M12.8 -33 L17.0 -33 L17.0 0 L12.8 0 L12.8 -27.45 L7.04 -22.46 L4.54 -26.05 Z" transform="translate(26.69 0) scale(1.0000)"/></g>
<g transform="translate(2098.31 547.00) scale(1.0000 1)" fill="#36a68a"><text x="0.00 26.69" y="0" font-size="48.00">23</text></g>
<text transform="translate(125.22 632.90) scale(0.8462 1)" font-size="30.70" fill="#353f55">ÇARŞAMBA</text>
<text transform="translate(125.22 632.90) scale(0.8462 1)" font-size="30.70" fill="none" stroke="#fff" stroke-width="0.50">ÇARŞAMBA</text>
<g transform="translate(112.40 670.10) scale(0.9432 1)" fill="#353f55"><text x="17.12 34.25 42.81 59.94 85.62 104.44 138.69 147.25 164.38" y="0" font-size="30.80">8.00-2.00</text><path d="M12.8 -33 L17.0 -33 L17.0 0 L12.8 0 L12.8 -27.45 L7.04 -22.46 L4.54 -26.05 Z" transform="translate(0.00 0) scale(0.6417)"/><path d="M12.8 -33 L17.0 -33 L17.0 0 L12.8 0 L12.8 -27.45 L7.04 -22.46 L4.54 -26.05 Z" transform="translate(121.57 0) scale(0.6417)"/></g>
<g transform="translate(622.16 658.00) scale(1.0000 1)" fill="#da2c54"><text x="0.00" y="0" font-size="48.00">7</text></g>
<g transform="translate(917.66 658.00) scale(1.0000 1)" fill="#da2c54"><text x="0.00" y="0" font-size="48.00">7</text></g>
<g transform="translate(1174.31 658.00) scale(1.0000 1)" fill="#6b5eaa"><text x="0.00 26.69" y="0" font-size="48.00">69</text></g>
<g transform="translate(1690.16 658.00) scale(1.0000 1)" fill="#36a68a"><text x="0.00" y="0" font-size="48.00">9</text></g>
<g transform="translate(2098.31 658.00) scale(1.0000 1)" fill="#36a68a"><text x="0.00 26.69" y="0" font-size="48.00">20</text></g>
<text transform="translate(125.22 744.90) scale(0.8462 1)" font-size="30.70" fill="#353f55">ÇARŞAMBA</text>
<text transform="translate(125.22 744.90) scale(0.8462 1)" font-size="30.70" fill="none" stroke="#fff" stroke-width="0.50">ÇARŞAMBA</text>
<g transform="translate(112.40 782.10) scale(0.9432 1)" fill="#353f55"><text x="0.00 34.25 42.81 59.94 85.62 104.44 121.57 138.69 147.25 164.38" y="0" font-size="30.80">2.00-24.00</text><path d="M12.8 -33 L17.0 -33 L17.0 0 L12.8 0 L12.8 -27.45 L7.04 -22.46 L4.54 -26.05 Z" transform="translate(17.12 0) scale(0.6417)"/></g>
<g transform="translate(622.16 770.00) scale(1.0000 1)" fill="#da2c54"><text x="0.00" y="0" font-size="48.00">7</text></g>
<g transform="translate(917.66 770.00) scale(1.0000 1)" fill="#da2c54"><text x="0.00" y="0" font-size="48.00">7</text></g>
<g transform="translate(1174.31 770.00) scale(1.0000 1)" fill="#6b5eaa"><text x="0.00" y="0" font-size="48.00">7</text><path d="M12.8 -33 L17.0 -33 L17.0 0 L12.8 0 L12.8 -27.45 L7.04 -22.46 L4.54 -26.05 Z" transform="translate(26.69 0) scale(1.0000)"/></g>
<g transform="translate(1690.16 770.00) scale(1.0000 1)" fill="#36a68a"><text x="0.00" y="0" font-size="48.00">8</text></g>
<g transform="translate(2098.31 770.00) scale(1.0000 1)" fill="#36a68a"><text x="26.69" y="0" font-size="48.00">7</text><path d="M12.8 -33 L17.0 -33 L17.0 0 L12.8 0 L12.8 -27.45 L7.04 -22.46 L4.54 -26.05 Z" transform="translate(0.00 0) scale(1.0000)"/></g>
<text transform="translate(23.94 895.10) scale(0.9639 1)" font-size="30.70" fill="#353f55" font-weight="bold">5</text>
<text transform="translate(47.92 895.10) scale(0.9423 1)" font-size="30.70" fill="#353f55" font-weight="bold">GÜNLÜK</text>
<text transform="translate(178.82 895.10) scale(1.0098 1)" font-size="30.70" fill="#353f55" font-weight="bold">TAHMİN</text>
<text transform="translate(157.92 1009.70) scale(0.9204 1)" font-size="29.80" fill="#5b5b5b">TARİH</text>
<text transform="translate(407.66 1037.90) scale(0.9758 1)" font-size="29.80" fill="#5b5b5b">Hadise</text>
<text transform="translate(864.39 953.80) scale(0.9738 1)" font-size="29.80" fill="#5b5b5b">TAHMİN</text>
<text transform="translate(980.09 953.80) scale(0.8849 1)" font-size="29.80" fill="#5b5b5b">EDİLEN</text>
<text transform="translate(1704.43 953.80) scale(0.8447 1)" font-size="29.80" fill="#5b5b5b">GEÇMİŞTE GERÇEKLEŞEN</text>
<g transform="translate(2037.51 953.80) scale(0.9521 1)" fill="#5b5b5b"><text x="0.00 26.50 43.07 84.50 102.70 119.27 135.85 152.42 168.99" y="0" font-size="29.80">(99-2020)</text><path d="M12.8 -33 L17.0 -33 L17.0 0 L12.8 0 L12.8 -27.45 L7.04 -22.46 L4.54 -26.05 Z" transform="translate(9.92 0) scale(0.6208)"/><path d="M12.8 -33 L17.0 -33 L17.0 0 L12.8 0 L12.8 -27.45 L7.04 -22.46 L4.54 -26.05 Z" transform="translate(59.64 0) scale(0.6208)"/></g>
<text transform="translate(648.04 1009.80) scale(0.9168 1)" font-size="29.80" fill="#5b5b5b">Sıcaklık</text>
<text transform="translate(749.17 1009.80) scale(0.9215 1)" font-size="29.80" fill="#5b5b5b">(°C)</text>
<text transform="translate(1043.58 1009.80) scale(1.0073 1)" font-size="29.80" fill="#5b5b5b">Nem</text>
<text transform="translate(1113.42 1009.80) scale(0.8965 1)" font-size="29.80" fill="#5b5b5b">(%)</text>
<text transform="translate(1329.84 1009.80) scale(0.9454 1)" font-size="29.80" fill="#5b5b5b">Rüzgar</text>
<text transform="translate(1426.84 1009.80) scale(0.9929 1)" font-size="29.80" fill="#5b5b5b">(km/sa)</text>
<text transform="translate(1660.94 1009.80) scale(0.9618 1)" font-size="29.80" fill="#5b5b5b">Uç</text>
<text transform="translate(1702.24 1009.80) scale(0.9158 1)" font-size="29.80" fill="#5b5b5b">Sıcaklık</text>
<text transform="translate(1803.27 1009.80) scale(0.9215 1)" font-size="29.80" fill="#5b5b5b">(°C)</text>
<text transform="translate(2004.63 1009.80) scale(0.9944 1)" font-size="29.80" fill="#5b5b5b">Ortalama</text>
<text transform="translate(2134.44 1009.80) scale(0.9129 1)" font-size="29.80" fill="#5b5b5b">Sıcaklık</text>
<text transform="translate(2235.66 1009.80) scale(0.9256 1)" font-size="29.80" fill="#5b5b5b">(°C)</text>
<text transform="translate(563.26 1065.50) scale(0.8969 1)" font-size="29.80" fill="#267aa0">En</text>
<text transform="translate(603.24 1065.50) scale(0.9856 1)" font-size="29.80" fill="#267aa0">Düşük</text>
<text transform="translate(746.83 1065.50) scale(0.9094 1)" font-size="29.80" fill="#da2c54">En</text>
<text transform="translate(786.19 1065.50) scale(0.9488 1)" font-size="29.80" fill="#da2c54">Yüksek</text>
<text transform="translate(939.56 1065.50) scale(0.8969 1)" font-size="29.80" fill="#d8980f">En</text>
<text transform="translate(979.54 1065.50) scale(0.9856 1)" font-size="29.80" fill="#d8980f">Düşük</text>
<text transform="translate(1123.12 1065.50) scale(0.9125 1)" font-size="29.80" fill="#6b5eaa">En</text>
<text transform="translate(1162.59 1065.50) scale(0.9519 1)" font-size="29.80" fill="#6b5eaa">Yüksek</text>
<text transform="translate(1344.68 1065.50) scale(0.9612 1)" font-size="29.80" fill="#5b5b5b">Yön</text>
<text transform="translate(1489.32 1065.50) scale(0.9502 1)" font-size="29.80" fill="#5b5b5b">Hız</text>
<text transform="translate(1596.64 1065.50) scale(0.9031 1)" font-size="29.80" fill="#267aa0">En</text>
<text transform="translate(1636.82 1065.50) scale(0.9905 1)" font-size="29.80" fill="#267aa0">Düşük</text>
<text transform="translate(1780.92 1065.50) scale(0.9125 1)" font-size="29.80" fill="#da2c54">En</text>
<text transform="translate(1820.39 1065.50) scale(0.9519 1)" font-size="29.80" fill="#da2c54">Yüksek</text>
<text transform="translate(1979.26 1065.50) scale(0.8969 1)" font-size="29.80" fill="#267aa0">En</text>
<text transform="translate(2019.24 1065.50) scale(0.9844 1)" font-size="29.80" fill="#267aa0">Düşük</text>
<text transform="translate(2174.32 1065.50) scale(0.9125 1)" font-size="29.80" fill="#da2c54">En</text>
<text transform="translate(2213.69 1065.50) scale(0.9499 1)" font-size="29.80" fill="#da2c54">Yüksek</text>
<text transform="translate(67.88 1150.50) scale(0.9747 1)" font-size="31.30" fill="#111111">04</text>
<text transform="translate(108.68 1150.50) scale(0.9480 1)" font-size="31.30" fill="#111111">Aralık</text>
<text transform="translate(191.38 1150.50) scale(0.9333 1)" font-size="31.30" fill="#111111">Çarşamba</text>
<g transform="translate(612.16 1157.00) scale(1.0000 1)" fill="#267aa0"><path d="M12.8 -33 L17.0 -33 L17.0 0 L12.8 0 L12.8 -27.45 L7.04 -22.46 L4.54 -26.05 Z" transform="translate(0.00 0) scale(1.0000)"/></g>
<g transform="translate(800.66 1157.00) scale(1.0000 1)" fill="#da2c54"><text x="0.00" y="0" font-size="48.00">9</text></g>
<g transform="translate(975.31 1157.00) scale(1.0000 1)" fill="#d8980f"><text x="0.00 26.69" y="0" font-size="48.00">58</text></g>
<g transform="translate(1163.31 1157.00) scale(1.0000 1)" fill="#6b5eaa"><text x="0.00 26.69" y="0" font-size="48.00">69</text></g>
<g transform="translate(1483.81 1157.00) scale(1.0000 1)" fill="#36a68a"><path d="M12.8 -33 L17.0 -33 L17.0 0 L12.8 0 L12.8 -27.45 L7.04 -22.46 L4.54 -26.05 Z" transform="translate(0.00 0) scale(1.0000)"/><path d="M12.8 -33 L17.0 -33 L17.0 0 L12.8 0 L12.8 -27.45 L7.04 -22.46 L4.54 -26.05 Z" transform="translate(26.69 0) scale(1.0000)"/></g>
<g transform="translate(1625.14 1153.80) scale(1.0000 1)" fill="#111111"><text x="0.00 13.09 34.94 45.86" y="0" font-size="39.30">-4,3</text></g>
<g transform="translate(1825.65 1153.80) scale(1.0000 1)" fill="#111111"><text x="21.85" y="0" font-size="39.30">9</text><path d="M12.8 -33 L17.0 -33 L17.0 0 L12.8 0 L12.8 -27.45 L7.04 -22.46 L4.54 -26.05 Z" transform="translate(0.00 0) scale(0.8187)"/></g>
<g transform="translate(2014.19 1153.80) scale(1.0000 1)" fill="#111111"><text x="21.85 32.78" y="0" font-size="39.30">,8</text><path d="M12.8 -33 L17.0 -33 L17.0 0 L12.8 0 L12.8 -27.45 L7.04 -22.46 L4.54 -26.05 Z" transform="translate(0.00 0) scale(0.8187)"/></g>
<g transform="translate(2202.76 1153.80) scale(1.0000 1)" fill="#111111"><text x="43.70 54.63" y="0" font-size="39.30">,5</text><path d="M12.8 -33 L17.0 -33 L17.0 0 L12.8 0 L12.8 -27.45 L7.04 -22.46 L4.54 -26.05 Z" transform="translate(0.00 0) scale(0.8187)"/><path d="M12.8 -33 L17.0 -33 L17.0 0 L12.8 0 L12.8 -27.45 L7.04 -22.46 L4.54 -26.05 Z" transform="translate(21.85 0) scale(0.8187)"/></g>
<text transform="translate(68.31 1261.50) scale(0.9519 1)" font-size="31.30" fill="#111111">05</text>
<text transform="translate(108.68 1261.50) scale(0.9480 1)" font-size="31.30" fill="#111111">Aralık</text>
<text transform="translate(191.59 1261.50) scale(0.9568 1)" font-size="31.30" fill="#111111">Perşembe</text>
<g transform="translate(612.16 1268.00) scale(1.0000 1)" fill="#267aa0"><text x="0.00" y="0" font-size="48.00">3</text></g>
<g transform="translate(787.31 1268.00) scale(1.0000 1)" fill="#da2c54"><text x="26.69" y="0" font-size="48.00">2</text><path d="M12.8 -33 L17.0 -33 L17.0 0 L12.8 0 L12.8 -27.45 L7.04 -22.46 L4.54 -26.05 Z" transform="translate(0.00 0) scale(1.0000)"/></g>
<g transform="translate(975.31 1268.00) scale(1.0000 1)" fill="#d8980f"><text x="0.00 26.69" y="0" font-size="48.00">52</text></g>
<g transform="translate(1163.31 1268.00) scale(1.0000 1)" fill="#6b5eaa"><text x="0.00 26.69" y="0" font-size="48.00">74</text></g>
<g transform="translate(1483.81 1268.00) scale(1.0000 1)" fill="#36a68a"><text x="26.69" y="0" font-size="48.00">0</text><path d="M12.8 -33 L17.0 -33 L17.0 0 L12.8 0 L12.8 -27.45 L7.04 -22.46 L4.54 -26.05 Z" transform="translate(0.00 0) scale(1.0000)"/></g>
<g transform="translate(1625.14 1264.80) scale(1.0000 1)" fill="#111111"><text x="0.00 13.09 34.94 45.86" y="0" font-size="39.30">-4,2</text></g>
<g transform="translate(1809.26 1264.80) scale(1.0000 1)" fill="#111111"><text x="21.85 43.70 54.63" y="0" font-size="39.30">9,6</text><path d="M12.8 -33 L17.0 -33 L17.0 0 L12.8 0 L12.8 -27.45 L7.04 -22.46 L4.54 -26.05 Z" transform="translate(0.00 0) scale(0.8187)"/></g>
<g transform="translate(2014.19 1264.80) scale(1.0000 1)" fill="#111111"><text x="21.85 32.78" y="0" font-size="39.30">,9</text><path d="M12.8 -33 L17.0 -33 L17.0 0 L12.8 0 L12.8 -27.45 L7.04 -22.46 L4.54 -26.05 Z" transform="translate(0.00 0) scale(0.8187)"/></g>
<g transform="translate(2202.76 1264.80) scale(1.0000 1)" fill="#111111"><text x="43.70 54.63" y="0" font-size="39.30">,5</text><path d="M12.8 -33 L17.0 -33 L17.0 0 L12.8 0 L12.8 -27.45 L7.04 -22.46 L4.54 -26.05 Z" transform="translate(0.00 0) scale(0.8187)"/><path d="M12.8 -33 L17.0 -33 L17.0 0 L12.8 0 L12.8 -27.45 L7.04 -22.46 L4.54 -26.05 Z" transform="translate(21.85 0) scale(0.8187)"/></g>
<text transform="translate(96.80 1372.50) scale(0.9619 1)" font-size="31.30" fill="#111111">06</text>
<text transform="translate(137.28 1372.50) scale(0.9480 1)" font-size="31.30" fill="#111111">Aralık</text>
<text transform="translate(220.10 1372.50) scale(0.9248 1)" font-size="31.30" fill="#111111">Cuma</text>
<g transform="translate(612.16 1379.00) scale(1.0000 1)" fill="#267aa0"><text x="0.00" y="0" font-size="48.00">2</text></g>
<g transform="translate(787.31 1379.00) scale(1.0000 1)" fill="#da2c54"><text x="26.69" y="0" font-size="48.00">3</text><path d="M12.8 -33 L17.0 -33 L17.0 0 L12.8 0 L12.8 -27.45 L7.04 -22.46 L4.54 -26.05 Z" transform="translate(0.00 0) scale(1.0000)"/></g>
<g transform="translate(975.31 1379.00) scale(1.0000 1)" fill="#d8980f"><text x="0.00 26.69" y="0" font-size="48.00">49</text></g>
<g transform="translate(1163.31 1379.00) scale(1.0000 1)" fill="#6b5eaa"><text x="0.00 26.69" y="0" font-size="48.00">74</text></g>
<g transform="translate(1483.81 1379.00) scale(1.0000 1)" fill="#36a68a"><text x="26.69" y="0" font-size="48.00">0</text><path d="M12.8 -33 L17.0 -33 L17.0 0 L12.8 0 L12.8 -27.45 L7.04 -22.46 L4.54 -26.05 Z" transform="translate(0.00 0) scale(1.0000)"/></g>
<g transform="translate(1625.14 1375.80) scale(1.0000 1)" fill="#111111"><text x="0.00 13.09 34.94 45.86" y="0" font-size="39.30">-7,5</text></g>
<g transform="translate(1809.26 1375.80) scale(1.0000 1)" fill="#111111"><text x="0.00 43.70 54.63" y="0" font-size="39.30">2,2</text><path d="M12.8 -33 L17.0 -33 L17.0 0 L12.8 0 L12.8 -27.45 L7.04 -22.46 L4.54 -26.05 Z" transform="translate(21.85 0) scale(0.8187)"/></g>
<g transform="translate(2030.57 1375.80) scale(1.0000 1)" fill="#111111"><text x="0.00" y="0" font-size="39.30">2</text></g>
<g transform="translate(2202.76 1375.80) scale(1.0000 1)" fill="#111111"><text x="43.70 54.63" y="0" font-size="39.30">,2</text><path d="M12.8 -33 L17.0 -33 L17.0 0 L12.8 0 L12.8 -27.45 L7.04 -22.46 L4.54 -26.05 Z" transform="translate(0.00 0) scale(0.8187)"/><path d="M12.8 -33 L17.0 -33 L17.0 0 L12.8 0 L12.8 -27.45 L7.04 -22.46 L4.54 -26.05 Z" transform="translate(21.85 0) scale(0.8187)"/></g>
<text transform="translate(67.29 1484.50) scale(0.9663 1)" font-size="31.30" fill="#111111">07</text>
<text transform="translate(107.48 1484.50) scale(0.9480 1)" font-size="31.30" fill="#111111">Aralık</text>
<text transform="translate(190.72 1484.50) scale(0.9715 1)" font-size="31.30" fill="#111111">Cumartesi</text>
<g transform="translate(612.16 1491.00) scale(1.0000 1)" fill="#267aa0"><text x="0.00" y="0" font-size="48.00">3</text></g>
<g transform="translate(787.31 1491.00) scale(1.0000 1)" fill="#da2c54"><text x="26.69" y="0" font-size="48.00">4</text><path d="M12.8 -33 L17.0 -33 L17.0 0 L12.8 0 L12.8 -27.45 L7.04 -22.46 L4.54 -26.05 Z" transform="translate(0.00 0) scale(1.0000)"/></g>
<g transform="translate(975.31 1491.00) scale(1.0000 1)" fill="#d8980f"><text x="0.00 26.69" y="0" font-size="48.00">49</text></g>
<g transform="translate(1163.31 1491.00) scale(1.0000 1)" fill="#6b5eaa"><text x="0.00 26.69" y="0" font-size="48.00">75</text></g>
<g transform="translate(1483.81 1491.00) scale(1.0000 1)" fill="#36a68a"><path d="M12.8 -33 L17.0 -33 L17.0 0 L12.8 0 L12.8 -27.45 L7.04 -22.46 L4.54 -26.05 Z" transform="translate(0.00 0) scale(1.0000)"/><path d="M12.8 -33 L17.0 -33 L17.0 0 L12.8 0 L12.8 -27.45 L7.04 -22.46 L4.54 -26.05 Z" transform="translate(26.69 0) scale(1.0000)"/></g>
<g transform="translate(1625.14 1487.80) scale(1.0000 1)" fill="#111111"><text x="0.00 13.09 34.94 45.86" y="0" font-size="39.30">-7,6</text></g>
<g transform="translate(1809.26 1487.80) scale(1.0000 1)" fill="#111111"><text x="0.00 21.85 43.70 54.63" y="0" font-size="39.30">20,4</text></g>
<g transform="translate(2014.19 1487.80) scale(1.0000 1)" fill="#111111"><text x="0.00 21.85" y="0" font-size="39.30">2,</text><path d="M12.8 -33 L17.0 -33 L17.0 0 L12.8 0 L12.8 -27.45 L7.04 -22.46 L4.54 -26.05 Z" transform="translate(32.78 0) scale(0.8187)"/></g>
<g transform="translate(2219.15 1487.80) scale(1.0000 1)" fill="#111111"><path d="M12.8 -33 L17.0 -33 L17.0 0 L12.8 0 L12.8 -27.45 L7.04 -22.46 L4.54 -26.05 Z" transform="translate(0.00 0) scale(0.8187)"/><path d="M12.8 -33 L17.0 -33 L17.0 0 L12.8 0 L12.8 -27.45 L7.04 -22.46 L4.54 -26.05 Z" transform="translate(21.85 0) scale(0.8187)"/></g>
<text transform="translate(98.81 1595.50) scale(0.9556 1)" font-size="31.30" fill="#111111">08</text>
<text transform="translate(138.88 1595.50) scale(0.9480 1)" font-size="31.30" fill="#111111">Aralık</text>
<text transform="translate(222.19 1595.50) scale(0.9172 1)" font-size="31.30" fill="#111111">Pazar</text>
<g transform="translate(612.16 1602.00) scale(1.0000 1)" fill="#267aa0"><text x="0.00" y="0" font-size="48.00">5</text></g>
<g transform="translate(787.31 1602.00) scale(1.0000 1)" fill="#da2c54"><text x="26.69" y="0" font-size="48.00">4</text><path d="M12.8 -33 L17.0 -33 L17.0 0 L12.8 0 L12.8 -27.45 L7.04 -22.46 L4.54 -26.05 Z" transform="translate(0.00 0) scale(1.0000)"/></g>
<g transform="translate(975.31 1602.00) scale(1.0000 1)" fill="#d8980f"><text x="0.00" y="0" font-size="48.00">5</text><path d="M12.8 -33 L17.0 -33 L17.0 0 L12.8 0 L12.8 -27.45 L7.04 -22.46 L4.54 -26.05 Z" transform="translate(26.69 0) scale(1.0000)"/></g>
<g transform="translate(1163.31 1602.00) scale(1.0000 1)" fill="#6b5eaa"><text x="0.00 26.69" y="0" font-size="48.00">74</text></g>
<g transform="translate(1483.81 1602.00) scale(1.0000 1)" fill="#36a68a"><text x="26.69" y="0" font-size="48.00">7</text><path d="M12.8 -33 L17.0 -33 L17.0 0 L12.8 0 L12.8 -27.45 L7.04 -22.46 L4.54 -26.05 Z" transform="translate(0.00 0) scale(1.0000)"/></g>
<g transform="translate(1625.14 1598.80) scale(1.0000 1)" fill="#111111"><text x="0.00 13.09 34.94 45.86" y="0" font-size="39.30">-4,4</text></g>
<g transform="translate(1809.26 1598.80) scale(1.0000 1)" fill="#111111"><text x="21.85 43.70 54.63" y="0" font-size="39.30">8,8</text><path d="M12.8 -33 L17.0 -33 L17.0 0 L12.8 0 L12.8 -27.45 L7.04 -22.46 L4.54 -26.05 Z" transform="translate(0.00 0) scale(0.8187)"/></g>
<g transform="translate(2014.19 1598.80) scale(1.0000 1)" fill="#111111"><text x="0.00 21.85" y="0" font-size="39.30">2,</text><path d="M12.8 -33 L17.0 -33 L17.0 0 L12.8 0 L12.8 -27.45 L7.04 -22.46 L4.54 -26.05 Z" transform="translate(32.78 0) scale(0.8187)"/></g>
<g transform="translate(2202.76 1598.80) scale(1.0000 1)" fill="#111111"><text x="21.85 43.70 54.63" y="0" font-size="39.30">0,8</text><path d="M12.8 -33 L17.0 -33 L17.0 0 L12.8 0 L12.8 -27.45 L7.04 -22.46 L4.54 -26.05 Z" transform="translate(0.00 0) scale(0.8187)"/></g>
</svg>
</body></html>
